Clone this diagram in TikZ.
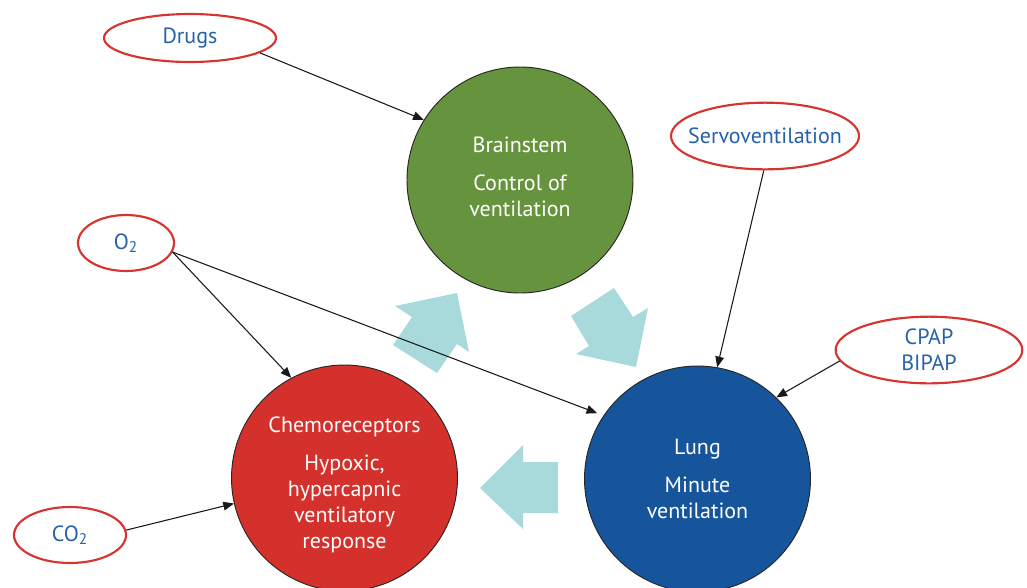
\documentclass[tikz,border=0pt]{standalone}
\usepackage{fontspec}
\setmainfont{PT Sans}
\usetikzlibrary{shapes.geometric,arrows.meta}
\definecolor{bsgreen}{RGB}{102,148,62}
\definecolor{chred}{RGB}{212,49,44}
\definecolor{lgblue}{RGB}{22,85,155}
\definecolor{bigarrow}{RGB}{168,218,220}
\definecolor{ellred}{RGB}{214,52,48}
\definecolor{elltext}{RGB}{38,98,168}
\tikzset{
  bigcirc/.style={circle,draw=black!85,line width=0.7pt,minimum size=169.5pt,inner sep=0pt},
  circtxt/.style={text=white,align=center,font=\fontsize{16.5}{19.5}\selectfont},
  ellbox/.style={ellipse,draw=ellred,line width=1.6pt,inner sep=0pt},
  elltxt/.style={text=elltext,align=center,font=\fontsize{16.5}{19.5}\selectfont},
  thinarrow/.style={draw=black!90,line width=0.8pt,-{Triangle[length=8pt,width=6.5pt]}},
  fatarrow/.style={fill=bigarrow,draw=none}
}
\begin{document}
\begin{tikzpicture}[x=0.75pt,y=-0.75pt]
\useasboundingbox (0,0) rectangle (1027,587);
% big arrows
\fill[fatarrow] (393,345) -- (412,317) -- (395,306) -- (457,293) -- (469,352) -- (457,344) -- (437,373) -- cycle;
\fill[fatarrow] (571,316) -- (614,288) -- (633,317) -- (648,308) -- (636,367) -- (576,354) -- (589,346) -- cycle;
\fill[fatarrow] (558,462) -- (523,462) -- (523,445) -- (480,488) -- (523,529) -- (523,513) -- (558,513) -- cycle;
% circles
\node[bigcirc,fill=bsgreen] (brain) at (520,180) {};
\node[circtxt] at ([yshift=2pt]brain) {Brainstem\\[9pt]Control of\\ventilation};
\node[bigcirc,fill=chred] (chemo) at (344.5,478) {};
\node[circtxt] at ([yshift=-5pt]chemo) {Chemoreceptors\\[9pt]Hypoxic,\\hypercapnic\\ventilatory\\response};
\node[bigcirc,fill=lgblue] (lung) at (697.5,479) {};
\node[circtxt] at (lung) {Lung\\[9pt]Minute\\ventilation};
% ellipses
\node[ellbox,minimum width=129pt,minimum height=36pt] (drugs) at (190,38) {};
\node[elltxt] at (drugs) {Drugs};
\node[ellbox,minimum width=141pt,minimum height=50pt] (servo) at (765,136) {};
\node[elltxt] at (servo) {Servoventilation};
\node[ellbox,minimum width=72pt,minimum height=42pt] (otwo) at (126,243) {};
\node[elltxt] at (otwo) {O\textsubscript{2}};
\node[ellbox,minimum width=140pt,minimum height=50pt] (cpap) at (929,350) {};
\node[elltxt] at (cpap) {CPAP\\BIPAP};
\node[ellbox,minimum width=84pt,minimum height=42pt] (cotwo) at (70,535) {};
\node[elltxt] at (cotwo) {CO\textsubscript{2}};
% thin arrows
\draw[thinarrow] (drugs.-12) -- (brain.148);
\draw[thinarrow] (servo.-92) -- (lung.80);
\draw[thinarrow] (cpap.187.5) -- (lung.46);
\draw[thinarrow] (otwo.-11) -- (chemo.118);
\draw[thinarrow,shorten >=5pt] (otwo.-11) -- (lung.146);
\draw[thinarrow] (cotwo.5) -- (chemo.193.5);
\end{tikzpicture}
\end{document}
